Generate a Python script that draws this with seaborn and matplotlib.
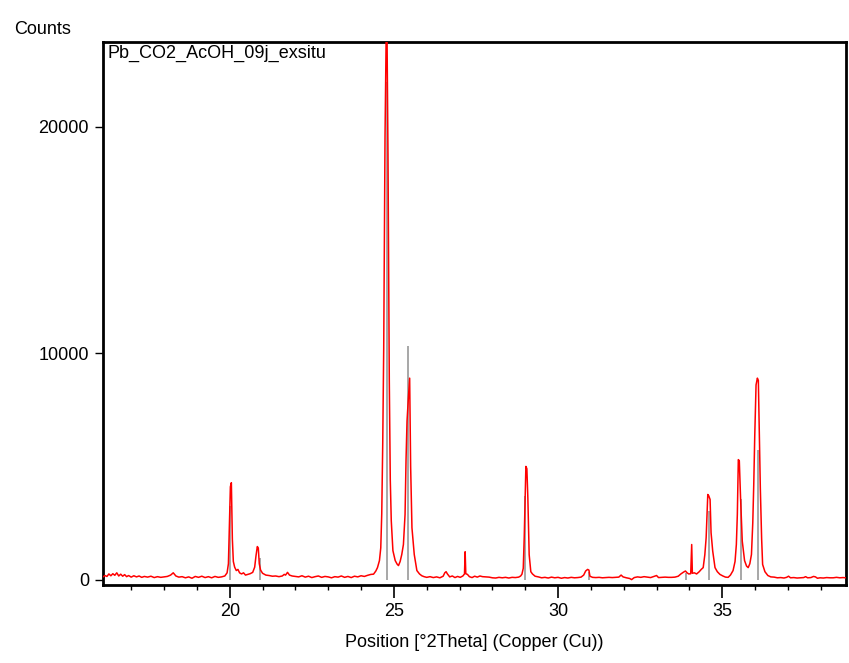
import matplotlib
matplotlib.use("Agg")
import matplotlib.pyplot as plt
import seaborn as sns
import pandas as pd
from matplotlib.ticker import MultipleLocator, FixedLocator

# ---------------- data ----------------
pattern_2theta = [
    16.14, 16.20, 16.26, 16.32, 16.38, 16.44, 16.50, 16.56, 16.62, 16.68, 16.74, 16.80, 16.86, 16.92,
    17.00, 17.08, 17.16, 17.24, 17.32, 17.40, 17.50, 17.60, 17.70, 17.80, 17.90, 18.00, 18.10, 18.20,
    18.28, 18.36, 18.45, 18.55, 18.65, 18.75, 18.85, 18.95, 19.05, 19.15, 19.25, 19.35, 19.45, 19.55,
    19.65, 19.75, 19.85, 19.92, 19.96, 19.99, 20.02, 20.05, 20.08, 20.11, 20.15, 20.20, 20.25, 20.30,
    20.36, 20.42, 20.48, 20.55, 20.62, 20.70, 20.76, 20.80, 20.84, 20.87, 20.90, 20.94, 21.00, 21.10,
    21.20, 21.30, 21.40, 21.50, 21.60, 21.66, 21.70, 21.76, 21.82, 21.90, 22.00, 22.10, 22.20, 22.30,
    22.40, 22.50, 22.60, 22.70, 22.80, 22.90, 23.00, 23.10, 23.20, 23.30, 23.40, 23.50, 23.60, 23.70,
    23.80, 23.90, 24.00, 24.10, 24.20, 24.30, 24.38, 24.45, 24.50, 24.56, 24.60, 24.63, 24.66, 24.69,
    24.73, 24.78, 24.82, 24.86, 24.89, 24.92, 24.97, 25.04, 25.10, 25.14, 25.19, 25.24, 25.29, 25.34,
    25.37, 25.40, 25.44, 25.48, 25.51, 25.55, 25.62, 25.70, 25.78, 25.85, 25.92, 26.00, 26.10, 26.20,
    26.30, 26.40, 26.50, 26.55, 26.59, 26.63, 26.70, 26.78, 26.86, 26.94, 27.02, 27.10, 27.15, 27.17,
    27.19, 27.24, 27.30, 27.38, 27.46, 27.54, 27.62, 27.70, 27.80, 27.90, 28.00, 28.10, 28.20, 28.30,
    28.40, 28.50, 28.60, 28.70, 28.80, 28.86, 28.90, 28.94, 28.97, 29.02, 29.05, 29.08, 29.12, 29.17,
    29.22, 29.30, 29.40, 29.50, 29.60, 29.70, 29.80, 29.90, 30.00, 30.10, 30.20, 30.30, 30.40, 30.50,
    30.60, 30.70, 30.78, 30.84, 30.90, 30.94, 30.97, 31.05, 31.15, 31.25, 31.35, 31.45, 31.55, 31.65,
    31.75, 31.85, 31.92, 31.98, 32.08, 32.18, 32.24, 32.32, 32.42, 32.52, 32.62, 32.72, 32.82, 32.92,
    33.00, 33.06, 33.16, 33.26, 33.36, 33.46, 33.56, 33.66, 33.74, 33.82, 33.88, 33.93, 33.98, 34.04,
    34.07, 34.09, 34.15, 34.22, 34.30, 34.36, 34.42, 34.47, 34.51, 34.56, 34.59, 34.63, 34.66, 34.71,
    34.78, 34.85, 34.93, 35.02, 35.10, 35.18, 35.25, 35.33, 35.39, 35.43, 35.46, 35.49, 35.52, 35.56,
    35.61, 35.68, 35.74, 35.79, 35.84, 35.89, 35.93, 35.96, 35.99, 36.03, 36.07, 36.10, 36.14, 36.16,
    36.20, 36.23, 36.30, 36.39, 36.48, 36.58, 36.68, 36.78, 36.88, 36.96, 37.02, 37.08, 37.18, 37.28,
    37.38, 37.48, 37.54, 37.60, 37.70, 37.78, 37.84, 37.90, 37.98, 38.08, 38.18, 38.28, 38.38, 38.48,
    38.58, 38.68, 38.76,
]
pattern_counts = [
    120, 180, 140, 250, 170, 260, 190, 300, 160, 240, 150, 220, 130, 180,
    110, 170, 120, 160, 100, 140, 110, 150, 90, 130, 100, 120, 140, 200,
    300, 160, 110, 130, 80, 120, 60, 140, 100, 150, 90, 130, 80, 140,
    100, 120, 160, 300, 700, 2400, 4100, 4280, 1800, 800, 550, 400, 450, 300,
    250, 300, 200, 230, 260, 320, 550, 1050, 1460, 1400, 700, 420, 280, 200,
    180, 150, 160, 130, 160, 230, 200, 320, 200, 160, 140, 120, 170, 110,
    150, 90, 130, 160, 100, 140, 120, 80, 130, 110, 160, 100, 140, 90,
    150, 120, 170, 140, 190, 230, 240, 380, 530, 840, 1400, 2900, 6000, 10200,
    19600, 26000, 18800, 8800, 4400, 2600, 1280, 840, 680, 620, 800, 1110, 1550, 2880,
    5300, 7000, 8000, 8900, 5000, 2290, 1110, 400, 250, 170, 130, 100, 130, 90,
    120, 80, 150, 300, 350, 250, 120, 160, 90, 140, 100, 160, 250, 1230,
    260, 230, 130, 90, 150, 110, 160, 130, 120, 110, 80, 70, 100, 80,
    100, 70, 100, 90, 110, 160, 240, 500, 1900, 5000, 4900, 3600, 1100, 350,
    250, 150, 120, 80, 100, 70, 110, 80, 100, 60, 90, 70, 100, 80,
    90, 110, 200, 380, 450, 420, 150, 100, 90, 100, 80, 90, 100, 90,
    100, 110, 200, 120, 80, 50, 0, 90, 120, 100, 130, 110, 90, 140,
    180, 90, 100, 110, 100, 100, 110, 150, 250, 330, 380, 300, 250, 260,
    1550, 280, 300, 250, 350, 450, 530, 1100, 1850, 3760, 3700, 3540, 2070, 1260,
    530, 350, 230, 160, 110, 100, 200, 400, 800, 1550, 2880, 5300, 5250, 3540,
    1700, 840, 600, 530, 700, 1110, 2500, 4200, 6330, 8600, 8900, 8800, 5600, 4050,
    1800, 670, 350, 180, 120, 110, 80, 90, 70, 100, 150, 80, 90, 70,
    80, 90, 130, 80, 90, 140, 120, 60, 80, 70, 90, 80, 80, 100,
    80, 90, 80,
]

ref_2theta = [20.02, 20.91, 24.79, 25.44, 29.00, 30.95, 33.90, 34.61, 35.56, 36.10]
ref_counts = [3250, 950, 22000, 10300, 3700, 350, 300, 3030, 3540, 5740]

x_major_ticks = [20, 25, 30, 35]
y_major_ticks = [0, 10000, 20000]
y_tick_labels = ["0", "10000", "20000"]

sample_name = "Pb_CO2_AcOH_09j_exsitu"
x_label = "Position [°2Theta] (Copper (Cu))"
y_label = "Counts"

# ---------------- plot ----------------
sns.set_theme(style="ticks")
plt.rcParams["font.family"] = ["Liberation Sans", "DejaVu Sans"]

fig = plt.figure(figsize=(8.49, 6.63), dpi=100)
ax = fig.add_axes([0.1213, 0.1169, 0.8748, 0.8198])

profile = pd.DataFrame({"two_theta": pattern_2theta, "counts": pattern_counts})
sns.lineplot(data=profile, x="two_theta", y="counts", ax=ax, color="#ff0000",
             linewidth=1.1, sort=False, estimator=None, zorder=3)

ax.vlines(ref_2theta, 0, ref_counts, colors="#a0a0a0", linewidth=1.3, zorder=2)

ax.set_xlim(16.14, 38.76)
ax.set_ylim(-260, 23750)

ax.xaxis.set_major_locator(FixedLocator(x_major_ticks))
ax.xaxis.set_minor_locator(MultipleLocator(1))
ax.yaxis.set_major_locator(FixedLocator(y_major_ticks))
ax.set_yticklabels(y_tick_labels)

for s in ax.spines.values():
    s.set_linewidth(2.0)
    s.set_color("black")
    s.set_visible(True)

ax.tick_params(axis="x", which="major", direction="out", length=9.5, width=1.2,
               pad=3, labelsize=13, colors="black")
ax.tick_params(axis="x", which="minor", direction="out", length=3.5, width=1.0, colors="black")
ax.tick_params(axis="y", which="major", direction="out", length=6, width=1.0,
               pad=4, labelsize=13, colors="black")
ax.tick_params(axis="y", which="minor", left=False)

ax.set_xlabel(x_label, fontsize=13, labelpad=10, color="black")
ax.set_ylabel("")

ax.text(0.006, 0.995, sample_name, transform=ax.transAxes, ha="left", va="top",
        fontsize=13, color="black")
fig.text(14 / 849, 1 - 29 / 663, y_label, ha="left", va="center", fontsize=13, color="black")

fig.savefig("out.png", dpi=100, facecolor="white")
